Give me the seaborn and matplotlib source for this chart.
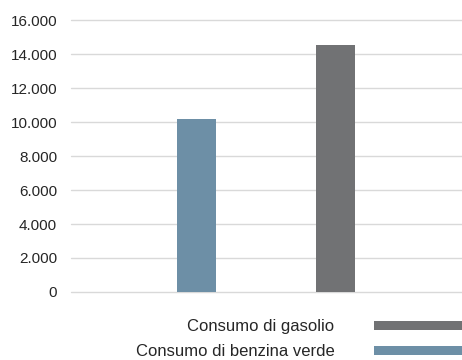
import matplotlib
matplotlib.use("Agg")
import matplotlib.pyplot as plt
from matplotlib.patches import Patch
from matplotlib.ticker import FuncFormatter, MultipleLocator
import seaborn as sns
import pandas as pd

# Fuel consumption by type
series = ["Consumo di benzina verde", "Consumo di gasolio"]
values = [10150, 14530]
colors = ["#6d8fa6", "#717274"]

sns.set_theme(style="white")
plt.rcParams["font.family"] = ["Liberation Sans", "DejaVu Sans"]

df = pd.DataFrame({"serie": series, "valore": values})

fig = plt.figure(figsize=(4.62, 3.60), dpi=100)
ax = fig.add_axes([0.1537, 0.1889, 0.8463, 0.7555])

sns.barplot(data=df, x="serie", y="valore", hue="serie",
            palette=dict(zip(series, colors)), width=0.28,
            saturation=1, legend=False, ax=ax, zorder=3,
            edgecolor="none", linewidth=0)

ax.set_ylim(0, 16000)
ax.set_xlim(-0.9, 1.913)
ax.yaxis.set_major_locator(MultipleLocator(2000))
ax.yaxis.set_major_formatter(
    FuncFormatter(lambda v, _: f"{v:,.0f}".replace(",", ".")))
ax.grid(axis="y", color="#d9d9d9", linewidth=1.0, zorder=0)
for gl in ax.get_ygridlines():
    gl.set_clip_on(False)
ax.set_axisbelow(True)
for s in ax.spines.values():
    s.set_visible(False)
ax.set_xticks([])
ax.set_xlabel("")
ax.set_ylabel("")
ax.tick_params(axis="y", length=0, pad=10, labelsize=11, labelcolor="#262626")

handles = [Patch(facecolor=colors[1], edgecolor="none"),
           Patch(facecolor=colors[0], edgecolor="none")]
labels = [series[1], series[0]]
fig.legend(handles, labels, loc="center right", bbox_to_anchor=(1.0, 0.057),
           frameon=False, markerfirst=False, fontsize=12,
           handlelength=5.3, handleheight=0.42, handletextpad=2.35,
           labelspacing=0.6, borderpad=0, borderaxespad=0,
           labelcolor="#262626")

fig.savefig("out.png", dpi=100)
